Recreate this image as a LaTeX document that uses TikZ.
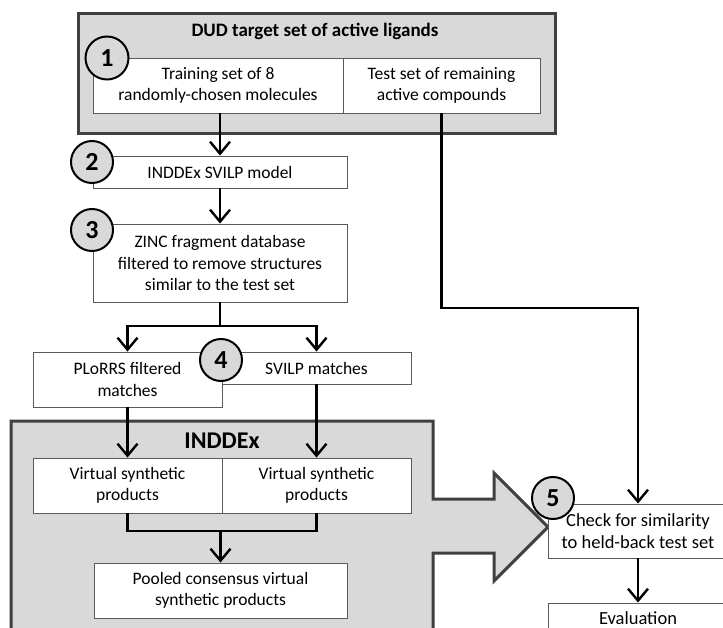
\documentclass[tikz,border=0pt]{standalone}
\usepackage{fontspec}
\setmainfont{Carlito}
\usetikzlibrary{arrows.meta}
\definecolor{panel}{HTML}{D9D9D9}
\definecolor{frame}{HTML}{404040}
\definecolor{boxline}{HTML}{5A5A5A}
\begin{document}
\begin{tikzpicture}[x=1pt,y=-1pt,
  container/.style={draw=frame,line width=3pt,fill=panel},
  wbox/.style={draw=boxline,line width=0.9pt,fill=white,inner sep=0pt,align=center,
    font=\fontsize{17.5}{21.5}\selectfont},
  numc/.style={circle,draw=black,line width=2pt,fill=panel,minimum size=42pt,inner sep=0pt,
    font=\fontsize{26}{26}\selectfont\bfseries},
  arr/.style={line width=2.8pt,-{Straight Barb[length=12pt,width=20pt,line width=2.4pt]}},
  ln/.style={line width=2.8pt},
  ttl/.style={font=\fontsize{19}{22}\selectfont\bfseries}]
\clip (0,0) rectangle (723,628);
\fill[white] (0,0) rectangle (723,628);
% top container
\node[container,minimum width=477pt,minimum height=120pt,inner sep=0pt] (dud) at (316.5,74) {};
\node[ttl] (dudt) at (315,31) {DUD target set of active ligands};
\node[wbox,minimum width=250pt,minimum height=55pt] (train) at (218,85.5) {Training set of 8\\randomly-chosen molecules};
\node[wbox,minimum width=197pt,minimum height=55pt] (test) at (441.5,85.5) {Test set of remaining\\active compounds};
\node[numc,minimum size=43pt] (c1) at (107,58) {1};
% step 2, 3
\node[wbox,minimum width=254pt,minimum height=32pt] (m2) at (220,172) {INDDEx SVILP model};
\node[numc] (c2) at (92,162) {2};
\node[wbox,minimum width=254pt,minimum height=78pt] (m3) at (220,263) {ZINC fragment database\\filtered to remove structures\\similar to the test set};
\node[numc] (c3) at (92,230) {3};
% step 4
\node[wbox,minimum width=189pt,minimum height=55pt] (plorrs) at (127.5,379.5) {PLoRRS filtered\\matches};
\node[wbox,minimum width=189pt,minimum height=32pt] (svilp) at (316.5,368) {SVILP matches};
\node[numc] (c4) at (221,360) {4};
% INDDEx container with arrow
\draw[container,line join=miter] (11,421) -- (433,421) -- (433,499) -- (494,499) -- (494,473) -- (548,527)
  -- (494,581) -- (494,553) -- (433,553) -- (433,650) -- (11,650) -- cycle;
\node[font=\fontsize{24}{26}\selectfont\bfseries] (indt) at (222,441) {INDDEx};
\node[wbox,minimum width=189pt,minimum height=55pt] (v1) at (127.5,485.5) {Virtual synthetic\\products};
\node[wbox,minimum width=189pt,minimum height=55pt] (v2) at (316.5,485.5) {Virtual synthetic\\products};
\node[wbox,minimum width=253pt,minimum height=55pt] (pooled) at (220.5,590.5) {Pooled consensus virtual\\synthetic products};
% step 5
\node[wbox,minimum width=180pt,minimum height=54pt,font=\fontsize{18.5}{22}\selectfont] (check) at (638,531) {Check for similarity\\to held-back test set};
\node[wbox,minimum width=180pt,minimum height=30pt,font=\fontsize{18.5}{22}\selectfont] (eval) at (638,618) {Evaluation};
\node[numc] (c5) at (553,498) {5};
% connectors
\draw[arr] (m2.north |- train.south) -- (m2.north);
\draw[arr] (m2.south) -- (m3.north);
\coordinate (split) at (220,326);
\draw[ln] (m3.south) -- (split);
\draw[arr] (split) -| (plorrs.north);
\draw[arr] (split) -| (svilp.north);
\draw[arr] (plorrs.south) -- (v1.north);
\draw[arr] (svilp.south) -- (v2.north);
\coordinate (merge) at (220.5,531);
\draw[ln,line join=miter] (v1.south) |- (merge) -| (v2.south);
\draw[arr] (merge) -- (pooled.north);
\coordinate (bend) at (441.5,308);
\draw[arr,line join=miter] (test.south) -- (bend) -| (check.north);
\draw[arr] (check.south) -- (eval.north);
\end{tikzpicture}
\end{document}
